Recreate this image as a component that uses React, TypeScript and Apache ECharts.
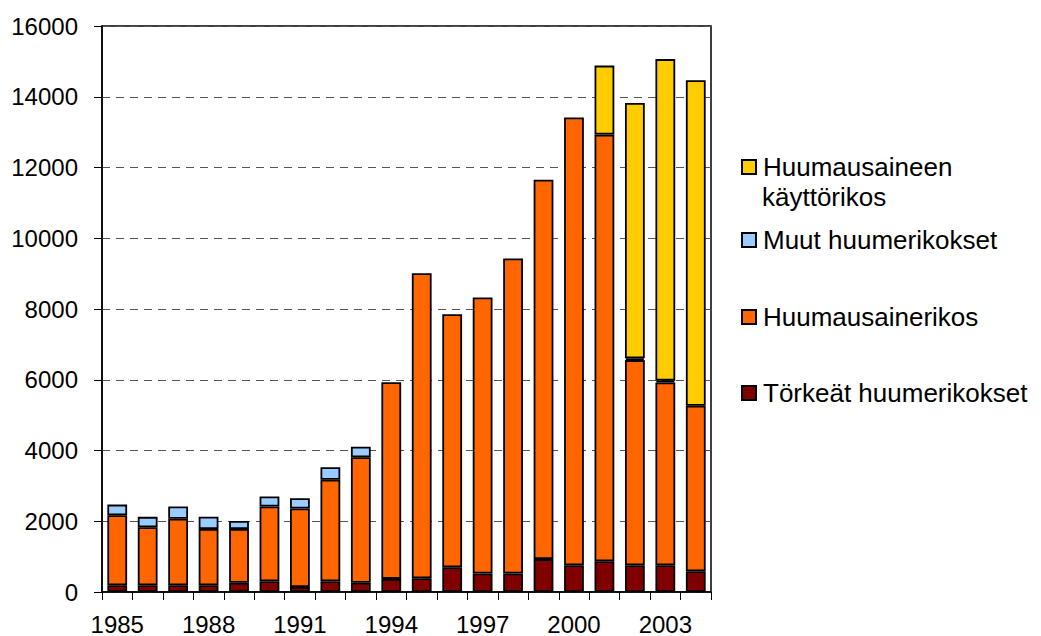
import React, { useEffect, useRef } from "react";
import * as echarts from "echarts";

const years = ["1985","1986","1987","1988","1989","1990","1991","1992","1993","1994","1995","1996","1997","1998","1999","2000","2001","2002","2003","2004"];
const torkeat = [190, 190, 190, 190, 260, 305, 140, 305, 260, 370, 390, 700, 525, 525, 930, 755, 870, 755, 755, 585];
const huumausainerikos = [1980, 1640, 1880, 1590, 1520, 2110, 2220, 2870, 3550, 5560, 8620, 7150, 7800, 8905, 10725, 12660, 12060, 5800, 5170, 4680];
const muut = [300, 295, 350, 350, 225, 285, 290, 350, 295, null, null, null, null, null, null, null, null, 50, 50, null];
const kaytto = [null, null, null, null, null, null, null, null, null, null, null, null, null, null, null, null, 1950, 7220, 9090, 9200];

const FONT = "'Liberation Sans', Arial, sans-serif";
const LEGEND_FS = 26;

export default function App() {
  const ref = useRef<HTMLDivElement>(null);
  useEffect(() => {
    if (!ref.current) return;
    const chart = echarts.init(ref.current, null, { renderer: "svg" });
    const mk = (name: string, data: any[], color: string) => ({
      name,
      type: "bar",
      stack: "total",
      data,
      barCategoryGap: "35%",
      itemStyle: { color, borderColor: "#000", borderWidth: 1.8 },
    });
    const legendBase = {
      left: 736,
      orient: "vertical",
      itemWidth: 14,
      itemHeight: 14,
      icon: "rect",
      selectedMode: false,
      textStyle: { fontSize: LEGEND_FS, color: "#000", fontFamily: FONT, padding: [0, 0, 0, 2] },
    };
    chart.setOption({
      animation: false,
      backgroundColor: "#fff",
      grid: {
        left: 102,
        right: 330,
        top: 26,
        bottom: 44,
        show: true,
        borderColor: "#000",
        borderWidth: 1.5,
        backgroundColor: "transparent",
      },
      legend: [
        { ...legendBase, top: 149, data: ["Huumausaineen käyttörikos"], formatter: () => "Huumausaineen" },
        { ...legendBase, top: 222, data: ["Muut huumerikokset"] },
        { ...legendBase, top: 299, data: ["Huumausainerikos"] },
        { ...legendBase, top: 375, data: ["Törkeät huumerikokset"] },
      ],
      graphic: [
        {
          type: "text",
          left: 762,
          top: 184,
          style: { text: "käyttörikos", fontSize: LEGEND_FS, fill: "#000", fontFamily: FONT },
        },
      ],
      xAxis: {
        type: "category",
        data: years,
        boundaryGap: true,
        axisLine: { lineStyle: { color: "#000", width: 1.5 } },
        axisTick: { show: true, interval: 0, length: 8, lineStyle: { color: "#000" } },
        axisLabel: { interval: 2, fontSize: 24, color: "#000", fontFamily: FONT, margin: 20 },
      },
      yAxis: {
        type: "value",
        min: 0,
        max: 16000,
        interval: 2000,
        axisLine: { show: true, lineStyle: { color: "#000", width: 1.5 } },
        axisTick: { show: true, length: 8, lineStyle: { color: "#000" } },
        axisLabel: { fontSize: 24, color: "#000", fontFamily: FONT, margin: 24, formatter: (v: number) => String(v) },
        splitLine: { show: true, lineStyle: { color: "#555", type: [8, 6], width: 1 } },
      },
      series: [
        mk("Törkeät huumerikokset", torkeat, "#800000"),
        mk("Huumausainerikos", huumausainerikos, "#FF6600"),
        mk("Muut huumerikokset", muut, "#99CCFF"),
        mk("Huumausaineen käyttörikos", kaytto, "#FFCC00"),
      ],
    });
    return () => chart.dispose();
  }, []);
  return (
    <div
      ref={ref}
      style={{ position: "fixed", left: 0, top: 0, width: 1041, height: 636, background: "#fff" }}
    />
  );
}
